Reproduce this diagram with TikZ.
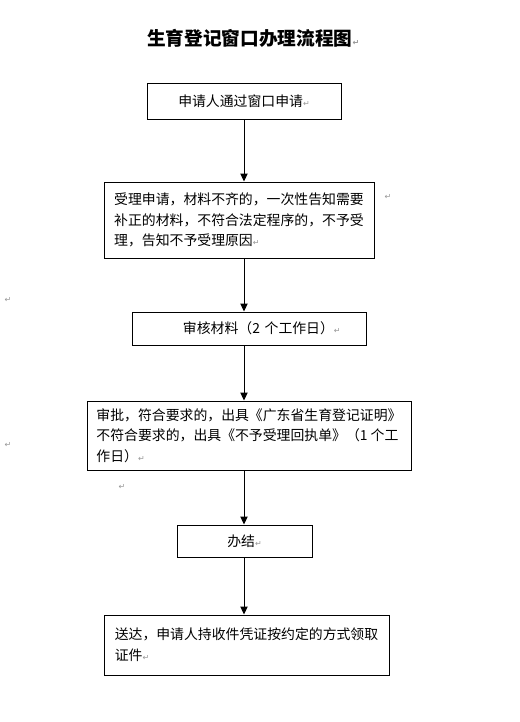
\documentclass[tikz,border=0pt]{standalone}
\usepackage{fontspec}
\setmainfont{Noto Sans CJK SC}
\newfontfamily\dejavu{DejaVu Sans}
\definecolor{markgray}{RGB}{150,150,150}
\usetikzlibrary{positioning,arrows.meta}
\newcommand{\pmark}{{\dejavu\color{markgray}\fontsize{6}{6}\selectfont ↵}}

\begin{document}
\begin{tikzpicture}[x=0.75pt, y=-0.75pt,
    stepbox/.style={draw, line width=0.75pt, inner sep=0pt, align=left,
        font=\fontsize{10.4}{15.5}\selectfont},
    flow/.style={-{Triangle[width=5.5pt,length=6pt]}, line width=0.75pt}]
    \useasboundingbox (0,0) rectangle (519,722);

    % Title
    \node[anchor=west, inner sep=0pt, font=\fontsize{14}{16}\selectfont\bfseries] (title) at (147,38) {生育登记窗口办理流程图\pmark};

    % Boxes
    \node[stepbox, minimum width=194*0.75pt, minimum height=36*0.75pt] (apply) at (244,101) {申请人通过窗口申请\pmark};
    \node[stepbox, minimum width=270*0.75pt, minimum height=76*0.75pt] (accept) at (239,220)
        {受理申请，材料不齐的，一次性告知需要\\补正的材料，不符合法定程序的，不予受\\理，告知不予受理原因\pmark};
    \node[stepbox, minimum width=234*0.75pt, minimum height=33*0.75pt, text width=214*0.75pt] (review) at (249,328.5)
        {\hspace*{30.75pt}审核材料（2 个工作日）\pmark};
    \node[stepbox, minimum width=324*0.75pt, minimum height=69*0.75pt] (approve) at (249,435.5)
        {审批，符合要求的，出具《广东省生育登记证明》\\不符合要求的，出具《不予受理回执单》（1 个工\\作日）\pmark};
    \node[stepbox, minimum width=135*0.75pt, minimum height=32*0.75pt] (finish) at (244.5,541) {办结\pmark};
    \node[stepbox, minimum width=285*0.75pt, minimum height=60*0.75pt] (deliver) at (246.5,645)
        {送达，申请人持收件凭证按约定的方式领取\\证件\pmark\hfill\mbox{}};

    % Arrows
    \draw[flow] (apply.south -| 244,0) -- (accept.north -| 244,0);
    \draw[flow] (accept.south -| 244,0) -- (review.north -| 244,0);
    \draw[flow] (review.south -| 244,0) -- (approve.north -| 244,0);
    \draw[flow] (approve.south -| 244,0) -- (finish.north -| 244,0);
    \draw[flow] (finish.south -| 244,0) -- (deliver.north -| 244,0);

    % Stray marks
    \node[inner sep=0pt] (m1) at (388,197) {\pmark};
    \node[inner sep=0pt] (m2) at (8,300) {\pmark};
    \node[inner sep=0pt] (m3) at (8,445) {\pmark};
    \node[inner sep=0pt] (m4) at (122,487) {\pmark};
\end{tikzpicture}
\end{document}
